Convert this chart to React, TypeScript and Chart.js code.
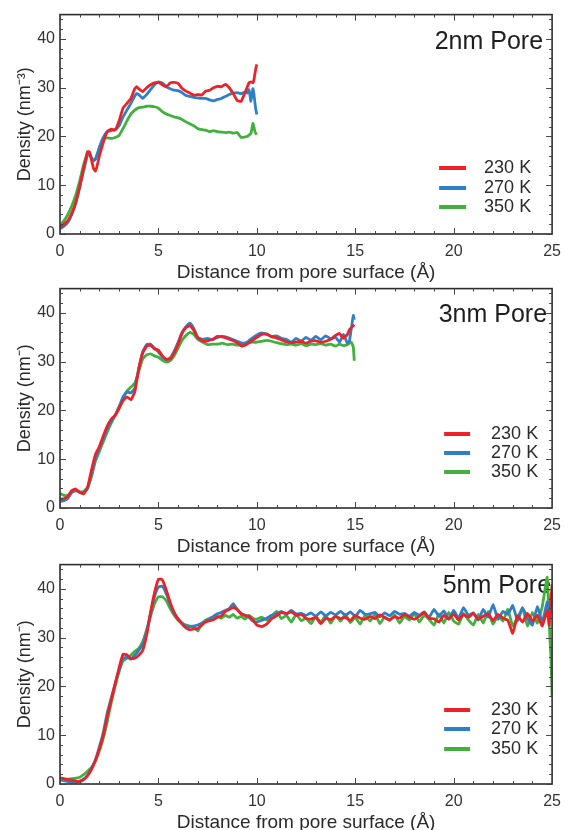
import React, { useEffect, useRef } from "react";
import { Chart, registerables } from "chart.js";

Chart.register(...registerables);

const FONT = '"Liberation Sans", Arial, Helvetica, sans-serif';

const SERIES_LABELS = ["230 K", "270 K", "350 K"];
const SERIES_COLORS = ["#ec2228", "#2f7fc6", "#42b03c"];
const X_TICKS = [0, 5, 10, 15, 20, 25];
const Y_TICKS = [0, 10, 20, 30, 40];
const X_TITLE = "Distance from pore surface (Å)";

// ---------- 2 nm pore ----------
const x2nm = [0, 0.2, 0.4, 0.6, 0.8, 1.0, 1.2, 1.4, 1.5, 1.6, 1.7, 1.8, 1.9, 2.0, 2.2, 2.4, 2.6, 2.8, 3.0, 3.2, 3.4, 3.6, 3.8, 3.9, 4.0, 4.2, 4.4, 4.6, 4.8, 5.0, 5.2, 5.4, 5.6, 5.8, 6.0, 6.2, 6.4, 6.6, 6.8, 7.0, 7.2, 7.4, 7.6, 7.8, 8.0, 8.2, 8.4, 8.6, 8.8, 9.0, 9.2, 9.4, 9.5, 9.6, 9.7, 9.8, 9.85, 9.9, 9.95, 10.0];
const red2nm = [1.3, 2.0, 2.7, 4.3, 6.5, 9.8, 13.5, 16.9, 16.8, 15.2, 13.5, 12.9, 14.2, 16.0, 18.8, 21.0, 21.5, 21.3, 23.2, 25.8, 26.8, 27.8, 29.8, 30.2, 29.8, 29.2, 30.0, 30.6, 31.0, 31.1, 30.6, 30.2, 31.0, 31.1, 30.9, 29.9, 29.3, 28.9, 28.5, 28.6, 28.5, 29.3, 29.5, 30.0, 30.3, 30.2, 30.7, 30.0, 28.8, 27.4, 27.2, 29.0, 30.0, 31.0, 31.2, 31.0, 31.6, 32.8, 34.0, 34.8];
const blue2nm = [1.1, 1.6, 2.4, 4.0, 6.3, 9.5, 13.0, 16.2, 16.5, 15.6, 15.0, 15.3, 16.5, 17.8, 19.8, 21.0, 21.2, 21.4, 22.2, 24.0, 25.4, 26.8, 28.3, 28.8, 28.6, 27.8, 28.6, 29.6, 30.6, 31.2, 31.0, 30.2, 29.8, 29.5, 29.4, 29.0, 28.4, 28.2, 28.0, 27.9, 27.8, 27.8, 27.5, 27.3, 27.6, 27.8, 28.2, 28.6, 28.9, 29.0, 28.8, 29.1, 28.9, 29.6, 27.2, 29.8, 28.8, 27.0, 25.5, 24.5];
const green2nm = [1.8, 2.7, 4.0, 5.8, 8.0, 10.9, 14.2, 16.4, 16.3, 15.6, 15.2, 15.4, 16.4, 17.6, 19.5, 19.7, 19.6, 19.8, 20.2, 21.6, 23.2, 24.6, 25.4, 25.7, 25.9, 26.0, 26.2, 26.2, 26.1, 25.8, 25.1, 24.6, 24.3, 24.0, 23.8, 23.5, 23.0, 22.6, 22.2, 21.6, 21.4, 21.3, 21.0, 21.2, 21.0, 20.9, 20.8, 20.9, 20.7, 20.8, 19.8, 19.9, 20.0, 20.3, 20.6, 22.7, 22.0, 21.0, 20.6, 20.4];

// ---------- 3 nm pore ----------
const x3nm = [0, 0.2, 0.4, 0.6, 0.8, 1.0, 1.2, 1.4, 1.6, 1.8, 2.0, 2.2, 2.4, 2.6, 2.8, 3.0, 3.2, 3.4, 3.6, 3.8, 4.0, 4.2, 4.4, 4.6, 4.8, 5.0, 5.2, 5.4, 5.6, 5.8, 6.0, 6.2, 6.4, 6.6, 6.8, 7.0, 7.25, 7.5, 7.75, 8.0, 8.25, 8.5, 8.75, 9.0, 9.25, 9.5, 9.75, 10.0, 10.25, 10.5, 10.75, 11.0, 11.25, 11.5, 11.75, 12.0, 12.25, 12.5, 12.75, 13.0, 13.25, 13.5, 13.75, 14.0, 14.2, 14.4, 14.6, 14.7, 14.8, 14.9, 14.95];
const red3nm = [1.8, 1.9, 2.4, 3.6, 3.9, 3.2, 2.9, 4.2, 7.8, 11.0, 12.6, 14.8, 16.8, 18.2, 19.0, 20.4, 22.0, 22.8, 22.2, 23.8, 28.5, 31.8, 33.2, 33.4, 32.6, 32.4, 31.2, 30.5, 30.6, 31.8, 33.6, 35.8, 37.0, 37.4, 36.4, 34.9, 34.2, 34.3, 34.6, 35.2, 35.1, 34.8, 34.4, 33.9, 33.2, 33.6, 34.3, 35.0, 35.6, 35.7, 35.1, 34.9, 34.5, 34.1, 33.9, 34.0, 34.2, 33.8, 34.2, 34.3, 34.0, 34.2, 34.6, 35.4, 35.8, 34.8, 35.6, 36.5, 37.0, 37.4, 37.6];
const blue3nm = [1.3, 1.5, 2.0, 3.2, 3.6, 3.2, 3.1, 4.0, 7.0, 10.2, 12.2, 14.2, 16.2, 17.8, 19.0, 20.6, 22.8, 23.8, 23.6, 24.6, 28.6, 32.0, 33.5, 33.6, 32.8, 32.0, 31.0, 30.4, 30.8, 32.2, 34.0, 36.0, 37.2, 37.9, 36.8, 35.0, 34.6, 34.8, 34.5, 35.0, 35.2, 35.0, 34.6, 34.2, 33.8, 34.0, 34.8, 35.5, 35.9, 35.6, 35.2, 35.3, 34.8, 34.6, 34.0, 34.8, 34.2, 35.0, 34.4, 35.2, 34.5, 35.3, 34.7, 35.0, 34.0, 35.6, 33.8, 34.2, 36.8, 39.5, 38.6];
const green3nm = [3.0, 2.6, 2.6, 3.2, 3.5, 3.3, 3.4, 4.2, 6.4, 9.6, 11.6, 13.6, 15.6, 17.4, 19.0, 20.8, 22.6, 24.0, 24.8, 25.6, 28.0, 30.6, 31.4, 31.6, 31.2, 30.9, 30.3, 29.9, 30.2, 31.2, 32.8, 34.4, 35.4, 36.0, 35.6, 34.6, 34.0, 33.5, 33.6, 33.6, 33.8, 33.5, 33.6, 33.4, 33.5, 33.8, 34.0, 34.0, 34.2, 34.4, 34.2, 33.9, 33.7, 33.5, 33.6, 33.4, 33.7, 33.3, 33.6, 33.5, 33.7, 33.4, 33.6, 33.2, 33.6, 33.3, 33.5, 33.8, 34.0, 33.0, 30.2];

// ---------- 5 nm pore ----------
const x5nm = [0, 0.2, 0.4, 0.6, 0.8, 1.0, 1.2, 1.4, 1.6, 1.8, 2.0, 2.2, 2.4, 2.6, 2.8, 3.0, 3.2, 3.4, 3.6, 3.8, 4.0, 4.2, 4.4, 4.6, 4.8, 5.0, 5.2, 5.4, 5.6, 5.8, 6.0, 6.2, 6.4, 6.6, 6.8, 7.0, 7.2, 7.4, 7.6, 7.8, 8.0, 8.2, 8.4, 8.6, 8.8, 9.0, 9.2, 9.4, 9.6, 9.8, 10.0,
  10.25, 10.5, 10.75, 11.0, 11.25, 11.5, 11.75, 12.0, 12.25, 12.5, 12.75, 13.0, 13.25, 13.5, 13.75, 14.0, 14.25, 14.5, 14.75, 15.0, 15.25, 15.5, 15.75, 16.0, 16.25, 16.5, 16.75, 17.0, 17.25, 17.5, 17.75, 18.0, 18.25, 18.5, 18.75, 19.0, 19.25, 19.5, 19.75, 20.0, 20.25, 20.5, 20.75, 21.0, 21.25, 21.5, 21.75, 22.0, 22.25, 22.5, 22.75, 23.0, 23.25, 23.5, 23.75, 24.0, 24.25, 24.5, 24.75, 24.85, 24.95, 25.0];
const red5nm = [1.2, 1.1, 0.9, 0.8, 0.6, 0.5, 0.9, 1.7, 3.0, 4.8, 7.2, 10.0, 13.8, 17.2, 20.5, 23.8, 26.6, 26.5, 25.7, 25.8, 26.4, 27.4, 30.5, 35.2, 39.2, 42.0, 41.9, 39.8, 37.2, 35.2, 33.8, 32.8, 32.0, 31.6, 31.8, 31.9, 32.6, 33.2, 33.5, 33.7, 34.2, 34.5, 35.4, 35.8, 36.2, 35.8, 34.9, 34.6, 34.4, 33.6, 32.6,
  32.3, 32.8, 33.9, 34.5, 35.2, 35.0, 35.3, 34.6, 34.8, 34.0, 33.8, 34.2, 32.9, 34.0, 33.7, 34.4, 33.9, 34.2, 33.5, 34.6, 34.0, 33.8, 34.4, 33.9, 34.7, 34.1, 33.7, 34.3, 34.0, 34.8, 34.2, 33.8, 34.4, 35.2, 34.0, 33.9, 33.2, 34.6, 33.8, 34.9, 33.6, 34.8, 34.2, 35.0, 33.8, 34.4, 34.9, 33.5, 34.8, 34.0, 33.6, 30.9, 34.5, 33.2, 35.0, 33.4, 34.6, 32.4, 35.6, 32.6, 38.0, 41.0];
const blue5nm = [0.8, 0.7, 0.5, 0.4, 0.4, 0.6, 1.0, 1.8, 3.2, 5.0, 7.6, 10.6, 14.6, 17.6, 20.6, 23.4, 25.8, 26.0, 25.6, 26.4, 27.4, 28.6, 31.2, 35.0, 38.4, 40.4, 40.6, 39.0, 36.8, 35.0, 33.9, 33.0, 32.4, 32.2, 32.4, 32.6, 33.0, 33.4, 33.8, 34.4, 34.9, 35.2, 35.6, 36.0, 37.0, 35.8, 35.0, 34.6, 34.2, 33.4, 33.2,
  33.6, 34.0, 34.6, 34.9, 35.4, 34.8, 35.6, 34.9, 35.0, 34.6, 35.1, 34.4, 35.3, 34.5, 35.2, 34.7, 35.4, 34.6, 35.3, 34.4, 35.6, 34.8, 34.9, 35.2, 34.3, 35.1, 34.5, 35.4, 34.8, 35.0, 34.4, 35.2, 34.6, 35.3, 34.2, 35.8, 34.4, 35.5, 33.8, 35.6, 34.0, 36.2, 34.6, 35.1, 33.6, 35.8, 34.2, 36.8, 33.8, 35.4, 34.8, 36.6, 33.4, 36.2, 34.0, 32.6, 36.4, 33.2, 37.4, 34.0, 39.0, 36.0];
const green5nm = [0.9, 0.9, 1.0, 1.1, 1.2, 1.4, 1.9, 2.6, 3.4, 4.8, 6.8, 9.4, 12.8, 16.6, 20.0, 23.0, 25.2, 25.8, 26.4, 27.2, 27.8, 29.2, 31.6, 34.4, 37.0, 38.4, 38.4, 37.6, 36.0, 34.6, 33.6, 33.0, 32.6, 32.4, 32.2, 31.4, 32.8, 33.6, 34.0, 34.2, 34.4, 34.0, 34.6, 34.2, 34.8, 34.0, 34.4, 33.8, 34.6, 34.0, 33.8,
  34.2, 33.6, 34.4, 35.4, 33.9, 34.6, 33.2, 34.8, 33.5, 34.0, 32.9, 34.4, 33.2, 34.6, 33.0, 34.5, 33.4, 34.8, 33.1, 34.2, 32.8, 34.6, 33.4, 34.8, 32.9, 34.3, 33.5, 34.7, 33.0, 34.4, 33.6, 35.0, 33.2, 34.6, 33.8, 32.6, 34.9, 33.0, 35.2, 33.4, 32.8, 35.0, 33.6, 32.6, 34.8, 33.0, 35.4, 32.8, 34.6, 33.4, 35.8, 32.4, 34.2, 36.0, 32.4, 35.2, 33.0, 36.4, 42.4, 33.2, 25.0, 17.8];

const CANVAS_W = 569;
const CANVAS_H = 290;
const AREA_TOP = 14;
const AREA_BOTTOM = 234;

const decorPlugin = {
  id: "poreDecor",
  beforeDatasetsDraw(chart: any, _args: any, opts: any) {
    const { ctx, chartArea: ca } = chart;
    ctx.save();
    ctx.font = `${opts.titleSize}px ${FONT}`;
    ctx.fillStyle = "#1e1e1e";
    ctx.textAlign = "right";
    ctx.textBaseline = "middle";
    ctx.fillText(opts.title, ca.right + opts.titleDx, ca.top + opts.titleDy);
    ctx.restore();
  },
  afterDatasetsDraw(chart: any, _args: any, opts: any) {
    const { ctx, chartArea: ca, scales } = chart;
    const xs = scales.x;
    const ys = scales.y;
    ctx.save();
    ctx.strokeStyle = "#2e2e2e";
    ctx.lineWidth = 1.6;
    ctx.strokeRect(ca.left, ca.top, ca.right - ca.left, ca.bottom - ca.top);
    ctx.lineWidth = 1;
    ctx.strokeStyle = "#444";
    ctx.beginPath();
    for (let v = 0; v <= 25; v += 1) {
      const px = Math.round(xs.getPixelForValue(v)) + 0.5;
      const len = v % 5 === 0 ? 6 : 3;
      ctx.moveTo(px, ca.bottom);
      ctx.lineTo(px, ca.bottom - len);
      ctx.moveTo(px, ca.top);
      ctx.lineTo(px, ca.top + len);
    }
    for (let v = 0; v <= 44; v += 2) {
      const py = Math.round(ys.getPixelForValue(v)) + 0.5;
      const len = v % 10 === 0 ? 6 : 3;
      ctx.moveTo(ca.left, py);
      ctx.lineTo(ca.left + len, py);
      ctx.moveTo(ca.right, py);
      ctx.lineTo(ca.right - len, py);
    }
    ctx.stroke();

    // legend
    ctx.font = `${opts.legendSize}px ${FONT}`;
    ctx.textAlign = "left";
    ctx.textBaseline = "middle";
    chart.data.datasets.forEach((ds: any, i: number) => {
      const y = ca.bottom + opts.legendRows[i];
      ctx.strokeStyle = ds.borderColor;
      ctx.lineWidth = 4;
      ctx.beginPath();
      ctx.moveTo(ca.right + opts.lineX0, y);
      ctx.lineTo(ca.right + opts.lineX1, y);
      ctx.stroke();
      ctx.fillStyle = "#2a2a2a";
      ctx.fillText(ds.label, ca.right + opts.textX, y);
    });
    ctx.restore();
  },
};

type PanelProps = {
  top: number;
  xs: number[];
  series: number[][];
  title: string;
  yTitle: string;
  titleDx: number;
  titleDy: number;
  legendRows: number[];
  lineX0: number;
  lineX1: number;
  textX: number;
};

function Panel(p: PanelProps) {
  const ref = useRef<HTMLCanvasElement | null>(null);
  useEffect(() => {
    if (!ref.current) return;
    const chart = new Chart(ref.current, {
      type: "line",
      data: {
        datasets: p.series.map((ys, i) => ({
          label: SERIES_LABELS[i],
          data: p.xs.map((x, j) => ({ x, y: ys[j] })),
          borderColor: SERIES_COLORS[i],
          backgroundColor: SERIES_COLORS[i],
          borderWidth: 2.8,
          pointRadius: 0,
          tension: 0.12,
          fill: false,
        })),
      },
      options: {
        responsive: false,
        maintainAspectRatio: false,
        animation: false,
        events: [],
        layout: { padding: { top: AREA_TOP, right: 11, left: 0, bottom: 0 } },
        plugins: {
          legend: { display: false },
          tooltip: { enabled: false },
          poreDecor: {
            title: p.title,
            titleSize: 25,
            titleDx: p.titleDx,
            titleDy: p.titleDy,
            legendSize: 18,
            legendRows: p.legendRows,
            lineX0: p.lineX0,
            lineX1: p.lineX1,
            textX: p.textX,
          },
        } as any,
        scales: {
          x: {
            type: "linear",
            min: 0,
            max: 25,
            afterBuildTicks: (s: any) => {
              s.ticks = X_TICKS.map((v) => ({ value: v }));
            },
            afterFit: (s: any) => {
              s.height = CANVAS_H - AREA_BOTTOM;
            },
            grid: { display: false, drawTicks: false, tickLength: 0 },
            border: { display: false },
            ticks: { padding: 8, maxRotation: 0, color: "#333", font: { family: FONT, size: 16 } },
            title: {
              display: true,
              text: X_TITLE,
              color: "#2a2a2a",
              font: { family: FONT, size: 19 },
              padding: { top: 0, bottom: 6 },
            },
          },
          y: {
            type: "linear",
            min: 0,
            max: 45,
            afterBuildTicks: (s: any) => {
              s.ticks = Y_TICKS.map((v) => ({ value: v }));
            },
            afterFit: (s: any) => {
              s.width = 60;
            },
            grid: { display: false, drawTicks: false, tickLength: 0 },
            border: { display: false },
            ticks: { padding: 5, color: "#333", font: { family: FONT, size: 16 } },
            title: {
              display: true,
              text: p.yTitle,
              color: "#2a2a2a",
              font: { family: FONT, size: 18 },
              padding: { top: 14, bottom: 0 },
            },
          },
        },
      },
      plugins: [decorPlugin],
    });
    return () => chart.destroy();
  }, []);
  return (
    <canvas
      ref={ref}
      width={CANVAS_W}
      height={CANVAS_H}
      style={{ position: "absolute", left: 0, top: p.top, width: CANVAS_W, height: CANVAS_H }}
    />
  );
}

export default function App() {
  return (
    <div
      style={{
        position: "fixed",
        left: 0,
        top: 0,
        width: 569,
        height: 830,
        overflow: "hidden",
        background: "#ffffff",
      }}
    >
      <Panel
        top={0}
        xs={x2nm}
        series={[red2nm, blue2nm, green2nm]}
        title="2nm Pore"
        yTitle="Density (nm⁻³)"
        titleDx={-9}
        titleDy={28}
        legendRows={[-66, -46, -27]}
        lineX0={-113}
        lineX1={-86}
        textX={-68}
      />
      <Panel
        top={274}
        xs={x3nm}
        series={[red3nm, blue3nm, green3nm]}
        title="3nm Pore"
        yTitle="Density (nm⁻)"
        titleDx={-5}
        titleDy={27}
        legendRows={[-74, -55, -36]}
        lineX0={-108}
        lineX1={-82}
        textX={-61}
      />
      <Panel
        top={550}
        xs={x5nm}
        series={[red5nm, blue5nm, green5nm]}
        title="5nm Pore"
        yTitle="Density (nm⁻)"
        titleDx={-1}
        titleDy={22}
        legendRows={[-74, -55, -35]}
        lineX0={-108}
        lineX1={-82}
        textX={-61}
      />
    </div>
  );
}
